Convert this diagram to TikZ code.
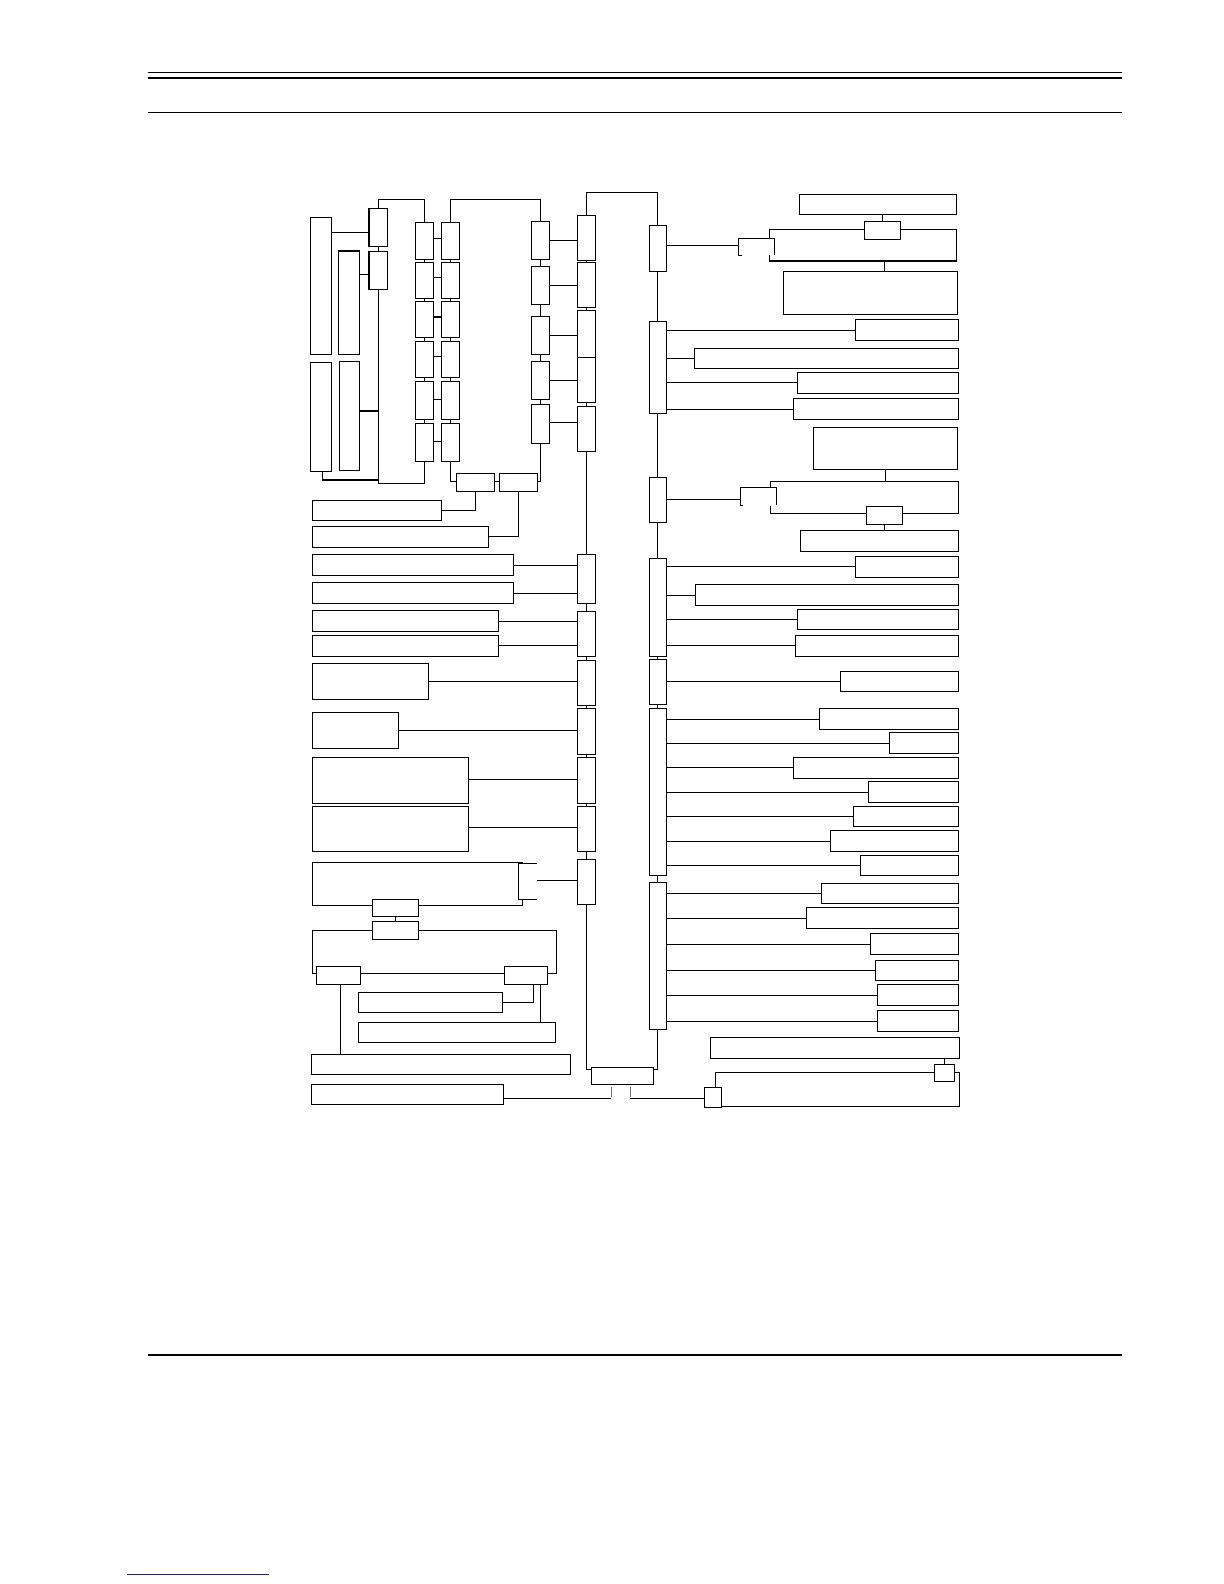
\documentclass[tikz,border=0pt]{standalone}
\usetikzlibrary{calc}
\tikzset{
  bx/.style={draw, line width=0.7pt, fill=white, inner sep=0pt, outer sep=0pt, rectangle},
  ln/.style={line width=0.7pt},
  gln/.style={line width=0.7pt, draw=black!55},
  rule/.style={line width=0.75pt},
  thickrule/.style={line width=1.4pt}
}
\newcommand{\bx}[5]{\node[bx, minimum width={(#4-#2)*0.6pt}, minimum height={(#5-#3)*0.6pt}] (#1) at ({(#2+#4)/2},{(#3+#5)/2}) {};}
\begin{document}
\begin{tikzpicture}[x=0.6pt,y=-0.6pt]
\useasboundingbox (0,0) rectangle (1224,1584);
% page rules
\draw[rule] (148,72.3) -- (1122,72.3);
\draw[thickrule] (148,77.7) -- (1122,77.7);
\draw[rule] (148,112.3) -- (1122,112.3);
\draw[rule] (148,1355) -- (1122,1355);
\draw[line width=0.8pt, draw={rgb,255:red,30;green,30;blue,140}] (127.3,1574.7) -- (269,1574.7);

% open frames (drawn first)
\draw[ln] (769.3,238.3) -- (769.3,229.3) -- (956.7,229.3) -- (956.7,261) -- (769.3,261) -- (769.3,255.3);
\draw[ln] (770.3,487.3) -- (770.3,481.3) -- (958.3,481.3) -- (958.3,513.3) -- (770.3,513.3) -- (770.3,506);
\draw[ln] (522.7,899.3) -- (522.7,905.3) -- (312.3,905.3) -- (312.3,862.3) -- (522.7,862.3);

% left group
\bx{a1}{310.3}{217.3}{331.3}{354.3}
\bx{a2}{338.3}{251}{359.7}{354.3}
\bx{a3}{310.3}{362.3}{331.3}{471.3}
\bx{a4}{339.3}{361.3}{359.7}{470.3}
\bx{b1}{369}{208.3}{387.3}{246.3}
\bx{b2}{369}{251.3}{387.3}{289.3}
\bx{c1}{415.3}{222.3}{433.7}{259.3}
\bx{c2}{415.3}{262.3}{433.7}{298.3}
\bx{c3}{415.3}{301.3}{433.7}{337.3}
\bx{c4}{415.3}{341.3}{433.7}{377.3}
\bx{c5}{415.3}{381.3}{433.7}{419.3}
\bx{c6}{415.3}{423.3}{433.7}{461.3}
\bx{d1}{441.3}{222.3}{459.3}{259.3}
\bx{d2}{441.3}{262.3}{459.3}{298.3}
\bx{d3}{441.3}{301.3}{459.3}{337.3}
\bx{d4}{441.3}{341.3}{459.3}{377.3}
\bx{d5}{441.3}{381.3}{459.3}{419.3}
\bx{d6}{441.3}{423.3}{459.3}{461.3}
\bx{e1}{531.3}{221.3}{549.3}{259.3}
\bx{e2}{531.3}{266.3}{549.3}{304.3}
\bx{e3}{531.3}{316.3}{549.3}{354.3}
\bx{e4}{531.3}{361.3}{549.3}{399.3}
\bx{e5}{531.3}{404.3}{549.3}{443.3}
\bx{f1}{456.3}{473.3}{494.3}{491.3}
\bx{f2}{499.3}{473.3}{537.3}{491.3}
% left spine
\bx{g1}{577.3}{215.3}{595.3}{260.3}
\bx{g2}{577.3}{262.3}{595.3}{307.3}
\bx{g3}{577.3}{310.3}{595.3}{357.3}
\bx{g4}{577.3}{357.3}{595.3}{402.3}
\bx{g5}{577.3}{406.3}{595.3}{451.3}
\bx{g6}{577.3}{554.3}{595.3}{603.3}
\bx{g7}{577.3}{611.3}{595.3}{656.3}
\bx{g8}{577.3}{660.3}{595.3}{705.3}
\bx{g9}{577.3}{708.3}{595.3}{754.3}
\bx{g10}{577.3}{757.3}{595.3}{803.3}
\bx{g11}{577.3}{806.3}{595.3}{851.3}
\bx{g12}{577.3}{859.3}{595.3}{904.3}
% right spine
\bx{h1}{649.3}{225.3}{666.3}{271.3}
\bx{h2}{649.3}{321.3}{666.3}{413.3}
\bx{h3}{649.3}{477.3}{666.3}{522.3}
\bx{h4}{649.3}{558.3}{666.3}{656.3}
\bx{h5}{649.3}{659.3}{666.3}{704.3}
\bx{h6}{649.3}{708.3}{666.3}{875.3}
\bx{h7}{649.3}{882.3}{666.3}{1029.3}
\bx{r}{591.3}{1067.3}{653.3}{1084.3}
% right boxes
\bx{i0}{799.3}{194.3}{956.7}{214.3}
\bx{j1}{864.3}{221.3}{900.3}{239.3}
\bx{i2}{783.3}{271.3}{957.7}{314.3}
\bx{k1}{855.3}{319.3}{958.7}{340.3}
\bx{k2}{694.3}{348.3}{958.7}{368.3}
\bx{k3}{797.3}{372.3}{958.7}{393.3}
\bx{k4}{793.3}{398.3}{958.7}{419.3}
\bx{k5}{813.3}{427.3}{957.7}{469.3}
\bx{j2}{866.3}{506.3}{902.3}{524.3}
\bx{i4}{800.3}{530.3}{958.3}{551.3}
\bx{l1}{855.3}{556.3}{958.3}{577.3}
\bx{l2}{695.3}{584.3}{958.3}{605.3}
\bx{l3}{797.3}{609.3}{958.3}{629.3}
\bx{l4}{795.3}{635.3}{958.3}{656.3}
\bx{l5}{840.3}{671.3}{958.3}{691.3}
\bx{m1}{819.3}{708.3}{958.3}{729.3}
\bx{m2}{889.3}{732.3}{958.3}{753.3}
\bx{m3}{793.3}{757.3}{958.3}{778.3}
\bx{m4}{868.3}{781.3}{958.3}{802.3}
\bx{m5}{853.3}{806.3}{958.3}{826.3}
\bx{m6}{830.3}{830.3}{958.3}{851.3}
\bx{m7}{860.3}{855.3}{958.3}{875.3}
\bx{n1}{821.3}{883.3}{958.3}{903.3}
\bx{n2}{806.3}{907.3}{958.3}{928.3}
\bx{n3}{870.3}{933.3}{958.3}{954.3}
\bx{n4}{875.3}{960.3}{958.3}{980.3}
\bx{n5}{877.3}{984.3}{958.3}{1005.3}
\bx{n6}{877.3}{1010.3}{958.3}{1031.3}
\bx{o1}{710.3}{1037.3}{959.3}{1058.3}
\bx{p1}{934.3}{1064.3}{954.3}{1081.3}
\bx{p2}{704.3}{1087.3}{721.3}{1107.7}
% left lower boxes
\bx{s1}{312.3}{500.3}{441.7}{520.3}
\bx{s2}{312.3}{526.3}{488.7}{547.3}
\bx{s3}{312.3}{554.3}{513.3}{575.3}
\bx{s4}{312.3}{582.3}{513.3}{603.3}
\bx{s5}{312.3}{610.3}{498.7}{631.3}
\bx{s6}{312.3}{635.3}{498.7}{656.3}
\bx{s7}{312.3}{663.3}{428.3}{699.3}
\bx{s8}{312.3}{712.3}{398.3}{748.3}
\bx{s9}{312.3}{757.3}{468.7}{803.3}
\bx{s10}{312.3}{806.3}{468.7}{851.3}
\bx{t1}{372.3}{899.3}{418.3}{916.3}
\bx{t2}{372.3}{921.3}{418.3}{939.3}
\bx{v1}{316.3}{966.3}{360.3}{984.3}
\bx{v2}{504.3}{966.3}{547.3}{984.3}
\bx{w1}{358.3}{992.3}{502.3}{1012.3}
\bx{w2}{358.3}{1022.3}{555.3}{1042.3}
\bx{x1}{311.3}{1054.3}{570.3}{1074.3}
\bx{x2}{311.3}{1084.3}{503.3}{1104.3}

% coordinates for brackets and bus
\coordinate (br1) at (738.7,245.3);
\coordinate (br2) at (740.3,499.3);
\coordinate (br3) at (536.7,880.3);
\coordinate (bus) at (b2.south |- 0,411);

% ---- connectors, left group
\draw[ln] (a1.east |- 0,232.3) -- (b1.west |- 0,232.3);
\draw[ln] (a2.east |- 0,274.3) -- (b2.west |- 0,274.3);
\draw[ln] (a4.east |- 0,411) -- (bus);
\draw[ln] (a3.south -| 322.3,0) -- (322.3,480) -- (b2.south |- 0,480);
\draw[ln] (b1.north) -- (b1.north |- 0,199.3) -- (424.5,199.3) -- (c1.north);
\draw[ln] (b1.south) -- (b2.north);
\draw[ln] (b2.south) -- (b2.south |- 0,483.3) -- (424.5,483.3) -- (c6.south);
\foreach \p/\q in {c1/c2,c2/c3,c3/c4,c4/c5,c5/c6,d1/d2,d2/d3,d3/d4,d4/d5,d5/d6,e1/e2,e2/e3,e3/e4,e4/e5}
  \draw[ln] (\p.south) -- (\q.north);
\foreach \i/\y in {1/238.3,2/277.3,3/317,4/356.3,5/399.3,6/441.7}
  \draw[ln] (c\i.east |- 0,\y) -- (d\i.west |- 0,\y);
\draw[ln] (d1.north) -- (450.3,199.3) -- (540.3,199.3) -- (e1.north);
\draw[ln] (d6.south) |- (f1.west |- 0,481.3);
\draw[ln] (f1.east |- 0,481.3) -- (f2.west |- 0,481.3);
\draw[ln] (e5.south) |- (f2.east |- 0,481.3);
\foreach \i/\y in {1/240.3,2/285.3,3/335.3,4/380.3,5/422.3}
  \draw[ln] (e\i.east |- 0,\y) -- (g\i.west |- 0,\y);

% ---- spines
\foreach \p/\q in {g1/g2,g2/g3,g4/g5,g5/g6,g6/g7,g7/g8,g8/g9,g9/g10,g10/g11,g11/g12,h1/h2,h2/h3,h3/h4,h4/h5,h5/h6,h6/h7}
  \draw[ln] (\p.south) -- (\q.north);
\draw[ln] (g1.north) -- (586.3,192.3) -- (657.8,192.3) -- (h1.north);
\draw[ln] (g12.south) |- (r.west |- 0,1069.3);
\draw[ln] (h7.south) |- (r.east |- 0,1069.3);

% ---- right side, upper
\draw[ln] (h1.east |- br1) -- (br1);
\draw[ln] (741.7,255.3) -- (738.7,255.3) -- (738.7,238.3) -- (774.3,238.3) -- (774.3,255.3);
\draw[ln] (i0.south -| j1.north) -- (j1.north);
\draw[ln] (884.3,261) -- (i2.north -| 884.3,0);
\foreach \k/\y in {k1/330.3,k2/358.3,k3/382.3,k4/409.3}
  \draw[ln] (h2.east |- 0,\y) -- (\k.west |- 0,\y);
\draw[ln] (k5.south) -- (k5.south |- 0,481.3);
\draw[ln] (h3.east |- br2) -- (br2);
\draw[ln] (743.3,505.3) -- (740.3,505.3) -- (740.3,487.3) -- (776.3,487.3) -- (776.3,505.3);
\draw[ln] (j2.south) -- (i4.north -| j2.south);
\foreach \k/\y in {l1/566.3,l2/595.3,l3/619.3,l4/645.3}
  \draw[ln] (h4.east |- 0,\y) -- (\k.west |- 0,\y);
\draw[ln] (h5.east |- 0,681.3) -- (l5.west |- 0,681.3);
\foreach \k/\y in {m1/719.3,m2/743.3,m3/767.3,m4/792.3,m5/816.3,m6/841.3,m7/865.3}
  \draw[ln] (h6.east |- 0,\y) -- (\k.west |- 0,\y);
\foreach \k/\y in {n1/893.3,n2/918.3,n3/944.3,n4/970.3,n5/995.3,n6/1021.3}
  \draw[ln] (h7.east |- 0,\y) -- (\k.west |- 0,\y);
\draw[ln] (o1.south -| p1.north) -- (p1.north);
\draw[ln] (p1.west |- 0,1072.3) -- (715.3,1072.3) -- (p2.north -| 715.3,0);
\draw[ln] (p1.east |- 0,1072.3) -- (959.3,1072.3) -- (959.3,1106.7) -- (p2.east |- 0,1106.7);

% ---- left side, lower
\draw[ln] (s1.east |- 0,510.3) -| (f1.south);
\draw[ln] (s2.east |- 0,536.7) -| (f2.south);
\foreach \s/\g/\y in {s3/g6/565.3,s4/g6/593.3,s5/g7/621.3,s6/g7/645.3,s7/g8/681.3,s8/g9/730.3,s9/g10/779.3,s10/g11/827.3}
  \draw[ln] (\s.east |- 0,\y) -- (\g.west |- 0,\y);
\draw[ln] (536.7,863.3) -- (518.7,863.3) -- (518.7,899.3) -- (536.7,899.3);
\draw[ln] (g12.west |- br3) -- (br3);
\draw[ln] (t1.south) -- (t2.north);
\draw[ln] (t2.west |- 0,930.3) -- (312.3,930.3) -- (312.3,973.3) -- (v1.west |- 0,973.3);
\draw[ln] (t2.east |- 0,930.3) -- (556.3,930.3) -- (556.3,973.3) -- (v2.east |- 0,973.3);
\draw[ln] (v1.east |- 0,973.3) -- (v2.west |- 0,973.3);
\draw[ln] (w1.east |- 0,1002.3) -- (533.3,1002.3) -- (v2.south -| 533.3,0);
\draw[ln] (v2.south -| 540.3,0) -- (w2.north -| 540.3,0);
\draw[ln] (v1.south -| 340.3,0) -- (x1.north -| 340.3,0);
\draw[ln] (x2.east |- 0,1098.3) -- (611.2,1098.3);
\draw[ln] (630.3,1098.3) -- (p2.west |- 0,1098.3);
\draw[gln] (611.7,1086.7) -- (611.7,1097.3);
\draw[gln] (630.3,1086.7) -- (630.3,1097.3);
\end{tikzpicture}
\end{document}
